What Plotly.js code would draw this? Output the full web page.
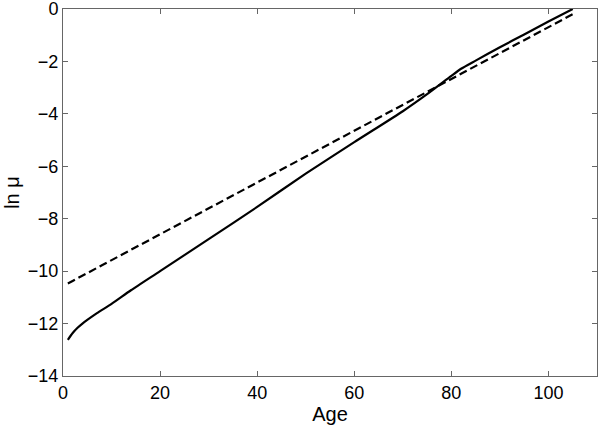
<!DOCTYPE html>
<html>
<head>
<meta charset="utf-8">
<script src="https://cdn.plot.ly/plotly-3.0.1.min.js"></script>
<style>
  html, body { margin: 0; padding: 0; background: #fff; }
  #chart { width: 600px; height: 428px; }
</style>
</head>
<body>
<div id="chart"></div>
<script>
// Solid curve: ln mu by age
const solidAge = [1, 2, 3, 4, 5, 7, 10, 14, 20, 30, 40, 50, 60, 70, 75, 80, 82, 85, 90, 95, 100, 105];
const solidLnMu = [-12.62, -12.36, -12.16, -12.0, -11.86, -11.6, -11.25, -10.73, -10.0, -8.78, -7.55, -6.28, -5.08, -3.9, -3.25, -2.55, -2.28, -1.97, -1.46, -0.97, -0.48, 0.0];

// Dashed line
const dashAge = [1, 10, 20, 30, 40, 50, 60, 70, 80, 90, 100, 105];
const dashLnMu = [-10.47, -9.58, -8.6, -7.62, -6.64, -5.65, -4.65, -3.66, -2.66, -1.68, -0.7, -0.2];

const xTicks = [0, 20, 40, 60, 80, 100];
const yTicks = [0, -2, -4, -6, -8, -10, -12, -14];

const axisCommon = {
    showline: true, mirror: 'ticks', linecolor: '#666', linewidth: 1,
    ticks: 'inside', ticklen: 5, tickcolor: '#666', tickwidth: 1,
    showgrid: false, zeroline: false, ticklabeloverflow: 'allow',
    tickfont: { size: 18, color: '#000' }
};

const traces = [
    {
        x: solidAge, y: solidLnMu, type: 'scatter', mode: 'lines',
        line: { color: '#000', width: 2.2, shape: 'spline', smoothing: 0.6 }
    },
    {
        x: dashAge, y: dashLnMu, type: 'scatter', mode: 'lines',
        line: { color: '#000', width: 2.2, dash: '8px,4px' }
    }
];

const layout = {
    width: 600, height: 428,
    paper_bgcolor: '#fff', plot_bgcolor: '#fff',
    font: { family: 'Liberation Sans, Arial, sans-serif', color: '#000' },
    margin: { l: 63, r: 3, t: 9, b: 52 },
    showlegend: false,
    xaxis: {
        ...axisCommon, range: [0, 110], tickvals: xTicks,
        title: { text: 'Age', font: { size: 20 }, standoff: 4 }
    },
    yaxis: {
        ...axisCommon, range: [-14, 0], tickvals: yTicks,
        title: { text: 'ln μ', font: { size: 20 }, standoff: 2 }
    }
};

Plotly.newPlot('chart', traces, layout, { displayModeBar: false, staticPlot: true });
</script>
</body>
</html>
